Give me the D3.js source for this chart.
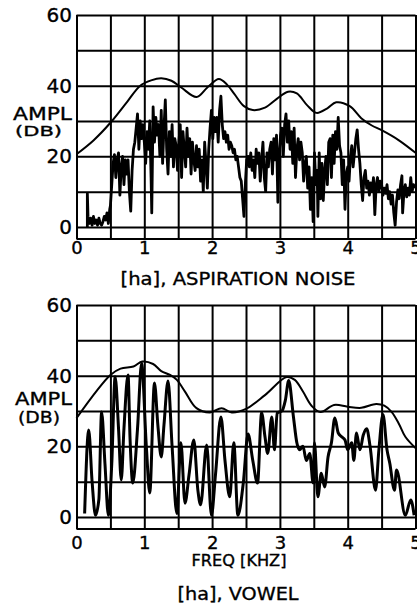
<!DOCTYPE html>
<html><head><meta charset="utf-8">
<script src="https://cdn.jsdelivr.net/npm/d3@7"></script>
<style>html,body{margin:0;padding:0;background:#fff;}svg{display:block;}</style>
</head><body>
<script>
// ---- data (kHz, dB) ----
const gridFreq = [0,0.5,1,1.5,2,2.5,3,3.5,4,4.5,5];
const gridAmp = [0,10,20,30,40,50,60];
const freqTicks = [0,1,2,3,4,5];
const ampTicks = [0,20,40,60];

const aspEnvelope = [[0,20.6],[0.25,24.5],[0.5,29.5],[0.75,35.5],[0.94,40],[1.1,41.5],[1.25,42.1],[1.4,41.4],[1.55,39.4],[1.77,36.8],[1.93,39.5],[2.1,41.9],[2.22,40.3],[2.33,37.6],[2.47,34.2],[2.6,33.1],[2.78,33.8],[2.95,36.2],[3.12,38.3],[3.25,37.8],[3.4,34.5],[3.54,32.3],[3.7,33.6],[3.83,35.3],[4.03,34.2],[4.2,30.8],[4.35,28.8],[4.5,27.4],[4.75,24.6],[5,21]];

const aspNoise = [[0.16,0],[0.16,9.5],[0.17,3],[0.19,1],[0.21,2.5],[0.23,0.5],[0.25,3],[0.27,1],[0.29,2],[0.31,0.5],[0.33,2.5],[0.35,1],[0.37,0.5],[0.39,1.5],[0.41,3],[0.43,2],[0.45,4],[0.47,1],[0.49,5],
[0.5,6],[0.52,12],[0.54,18],[0.56,20.5],[0.58,14],[0.6,19],[0.62,21],[0.64,9],[0.66,17],[0.68,20],[0.7,12],[0.72,19],[0.74,15],[0.76,19],[0.78,10],[0.8,4.5],[0.82,16],[0.84,22],[0.86,24],[0.88,28],[0.9,32],[0.92,22],[0.94,30],[0.96,25],[0.98,29],
[1.0,24],[1.02,18],[1.04,27],[1.06,22],[1.08,30],[1.1,14],[1.11,4],[1.13,34],[1.15,24],[1.17,31],[1.19,26],[1.21,29],[1.23,20],[1.25,33],[1.27,18],[1.29,28],[1.31,36],[1.33,22],[1.35,15],[1.37,27],[1.39,20],[1.41,29],[1.43,17],[1.45,25],[1.47,23],[1.49,16],[1.51,24],[1.53,29],[1.55,14],[1.57,27],[1.59,22],[1.61,17],[1.63,28],[1.65,20],[1.67,25],[1.69,15],[1.71,24],[1.73,19],[1.75,16],[1.77,23],[1.79,17],[1.81,22],[1.83,13],[1.85,19],[1.87,10],[1.89,24],[1.91,18],[1.93,11],[1.95,22],[1.97,28],[1.99,33],
[2.01,25],[2.03,31],[2.05,27],[2.07,31],[2.09,24],[2.11,33],[2.13,37],[2.15,29],[2.17,25],[2.19,27],[2.21,24],[2.23,26],[2.25,22],[2.27,24],[2.29,23],[2.31,21],[2.33,22],[2.35,19],[2.37,20],[2.39,17],[2.41,14],[2.43,13],[2.45,8],[2.47,3],[2.49,12],[2.51,19],[2.53,20],[2.55,17],[2.57,21],[2.59,16],[2.61,19],[2.63,14],[2.65,22],[2.67,18],[2.69,21],[2.71,13],[2.73,19],[2.75,24],[2.77,14],[2.79,10],[2.81,21],[2.83,17],[2.85,22],[2.87,24],[2.89,15],[2.91,25],[2.93,19],[2.95,26],[2.97,7],[2.99,21],
[3.01,26],[3.03,28],[3.05,20],[3.07,29],[3.09,32],[3.11,24],[3.13,30],[3.15,22],[3.17,27],[3.19,18],[3.21,28],[3.23,14],[3.25,22],[3.27,25],[3.29,19],[3.31,24],[3.33,21],[3.35,13],[3.37,18],[3.39,20],[3.41,11],[3.43,17],[3.45,5],[3.47,14],[3.49,1.5],[3.51,21],[3.53,12],[3.55,16],[3.56,3],[3.58,21],[3.6,8],[3.62,18],[3.64,7.5],[3.66,16],[3.68,20],[3.7,12],[3.72,24],[3.74,25],[3.76,14],[3.78,26],[3.8,18],[3.82,27],[3.84,22],[3.86,31],[3.88,23],[3.9,21],[3.92,12],[3.94,19],[3.96,5],[3.98,15],
[4.0,17],[4.02,13],[4.04,20],[4.06,23],[4.08,17],[4.1,21],[4.12,25],[4.14,27.5],[4.16,22],[4.18,18],[4.2,12],[4.22,7.5],[4.24,14],[4.26,16],[4.28,11],[4.3,13],[4.32,9],[4.34,12.5],[4.36,10],[4.38,14],[4.4,3.5],[4.42,12],[4.44,14],[4.46,10],[4.48,13],[4.5,12],[4.52,9],[4.54,11],[4.56,9.5],[4.58,12],[4.6,8],[4.62,10],[4.64,6.5],[4.66,9],[4.68,4],[4.7,0.5],[4.72,7],[4.74,10.5],[4.76,8],[4.78,12],[4.8,14.5],[4.81,4],[4.83,10],[4.85,12],[4.87,8.5],[4.89,11],[4.91,9],[4.93,14],[4.95,10],[4.97,12],[4.99,11]];

const vowelEnvelope = [[0,28],[0.5,40.2],[0.65,42],[0.84,42.6],[0.97,44],[1.13,43.3],[1.25,41.3],[1.38,40.2],[1.48,38.8],[1.6,35.5],[1.77,30.8],[1.97,29.6],[2.14,30.8],[2.29,29.6],[2.5,30.6],[2.78,34.5],[3.1,39.6],[3.22,38.8],[3.34,35.5],[3.47,31.4],[3.6,29.7],[3.8,31.7],[4.0,31.2],[4.2,30.9],[4.42,32],[4.54,31.5],[4.65,29.7],[4.76,26.2],[4.85,22.7],[5,19.5]];

const vowelSpectrum = [[0.12,1],[0.18,24.6],[0.23,10],[0.28,0.5],[0.33,5],[0.37,29.7],[0.42,15],[0.47,0.5],[0.52,15],[0.57,39.7],[0.62,25],[0.66,10.5],[0.7,25],[0.76,40.2],[0.79,22],[0.83,9.6],[0.9,25],[0.96,43.5],[1.03,20],[1.08,6.8],[1.15,37.9],[1.2,26],[1.25,17],[1.29,26],[1.35,38.5],[1.41,20],[1.48,1],[1.54,21],[1.6,3.9],[1.66,12],[1.73,21.8],[1.79,7.6],[1.83,3.5],[1.92,20.4],[1.99,0.5],[2.05,12],[2.13,28.3],[2.19,16],[2.26,5.7],[2.32,21],[2.38,0.5],[2.46,9.6],[2.53,23.5],[2.6,16],[2.67,9.6],[2.73,29.5],[2.78,22.7],[2.82,18],[2.88,28.3],[2.92,19],[2.96,29.4],[3.03,30],[3.08,33],[3.13,38.6],[3.2,28.3],[3.25,21],[3.29,19],[3.34,20],[3.39,16],[3.44,18],[3.49,9.6],[3.51,21],[3.56,5.7],[3.61,12.4],[3.66,8.5],[3.71,17],[3.76,21],[3.81,28],[3.86,23.8],[3.91,22.7],[3.96,21.8],[4.0,19],[4.06,21],[4.09,16],[4.13,23.8],[4.18,19],[4.23,23.2],[4.28,25],[4.33,20],[4.41,7.6],[4.46,19],[4.52,29],[4.58,19],[4.62,15.3],[4.69,7.6],[4.72,13.3],[4.85,0.5],[4.93,4.8],[4.98,0.5]];

// ---- drawing ----
const W = 417, H = 607;
const FONT = "'DejaVu Sans', 'Liberation Sans', sans-serif";
const svg = d3.select('body').append('svg').attr('width', W).attr('height', H);
svg.append('rect').attr('width', W).attr('height', H).attr('fill', '#fff');

const x = d3.scaleLinear().domain([0, 5]).range([76.5, 415.5]);

const panels = [
  {y0: 227, y60: 15, xLabPad: 2.5, noise: aspNoise, noiseCurve: d3.curveLinear, noiseW: 2.8, env: aspEnvelope,
   ampl: {y: 120, x1: 13, w: 59, fs: 18}, db: {y: 136, x1: 15, w: 47, fs: 14},
   titles: [{text: '[ha], ASPIRATION NOISE', y: 285, cx: 238, w: 235, fs: 18}]},
  {y0: 517, y60: 305, xLabPad: 7, noise: vowelSpectrum, noiseCurve: d3.curveMonotoneX, noiseW: 3, env: vowelEnvelope,
   ampl: {y: 405, x1: 15, w: 57, fs: 18}, db: {y: 423, x1: 18, w: 42, fs: 16},
   titles: [{text: 'FREQ [KHZ]', y: 566, cx: 239, w: 95, fs: 15}, {text: '[ha], VOWEL', y: 600, cx: 238, w: 121, fs: 18}]}
];

function styleText(sel) {
  sel.attr('font-family', FONT).attr('fill', '#000').attr('stroke', '#000').attr('stroke-width', 0.35);
}

panels.forEach(p => {
  const y = d3.scaleLinear().domain([0, 60]).range([p.y0, p.y60]);
  const yb = y(-3.4);
  const g = svg.append('g');

  // vertical grid lines
  const gv = g.append('g').attr('transform', `translate(0,${yb})`)
    .call(d3.axisBottom(x).tickValues(gridFreq).tickSize(-(yb - y(60))).tickFormat(''));
  gv.select('.domain').remove();
  gv.selectAll('line').attr('stroke', '#000').attr('stroke-width', 2);

  // horizontal grid lines
  const gh = g.append('g').attr('transform', `translate(${x(0)},0)`)
    .call(d3.axisLeft(y).tickValues(gridAmp).tickSize(-(x(5) - x(0))).tickFormat(''));
  gh.select('.domain').remove();
  gh.selectAll('line').attr('stroke', '#000').attr('stroke-width', 2);

  // bottom frame
  g.append('line').attr('x1', x(0)).attr('x2', x(5)).attr('y1', yb).attr('y2', yb)
    .attr('stroke', '#000').attr('stroke-width', 2.2);

  // y tick labels
  const ay = g.append('g').attr('transform', `translate(${x(0)},0)`)
    .call(d3.axisLeft(y).tickValues(ampTicks).tickSize(0).tickPadding(4.5).tickFormat(d3.format('d')));
  ay.select('.domain').remove();
  ay.selectAll('text').call(styleText).attr('font-size', 20);

  // x tick labels
  const ax = g.append('g').attr('transform', `translate(0,${yb})`)
    .call(d3.axisBottom(x).tickValues(freqTicks).tickSize(0).tickPadding(p.xLabPad).tickFormat(d3.format('d')));
  ax.select('.domain').remove();
  ax.selectAll('text').call(styleText).attr('font-size', 18);

  // envelope
  g.append('path').datum(p.env)
    .attr('d', d3.line().x(d => x(d[0])).y(d => y(d[1])).curve(d3.curveCatmullRom.alpha(0.5)))
    .attr('fill', 'none').attr('stroke', '#000').attr('stroke-width', 2);

  // spectrum
  g.append('path').datum(p.noise)
    .attr('d', d3.line().x(d => x(d[0])).y(d => y(d[1])).curve(p.noiseCurve))
    .attr('fill', 'none').attr('stroke', '#000').attr('stroke-width', p.noiseW)
    .attr('stroke-linejoin', 'round');

  // axis title
  g.append('text').text('AMPL').attr('x', p.ampl.x1).attr('y', p.ampl.y)
    .call(styleText).attr('font-size', p.ampl.fs)
    .attr('textLength', p.ampl.w).attr('lengthAdjust', 'spacingAndGlyphs');
  g.append('text').text('(DB)').attr('x', p.db.x1).attr('y', p.db.y)
    .call(styleText).attr('font-size', p.db.fs)
    .attr('textLength', p.db.w).attr('lengthAdjust', 'spacingAndGlyphs');

  p.titles.forEach(t => {
    g.append('text').text(t.text).attr('x', t.cx - t.w / 2).attr('y', t.y)
      .call(styleText).attr('font-size', t.fs)
      .attr('textLength', t.w).attr('lengthAdjust', 'spacingAndGlyphs');
  });
});
</script>
</body></html>
